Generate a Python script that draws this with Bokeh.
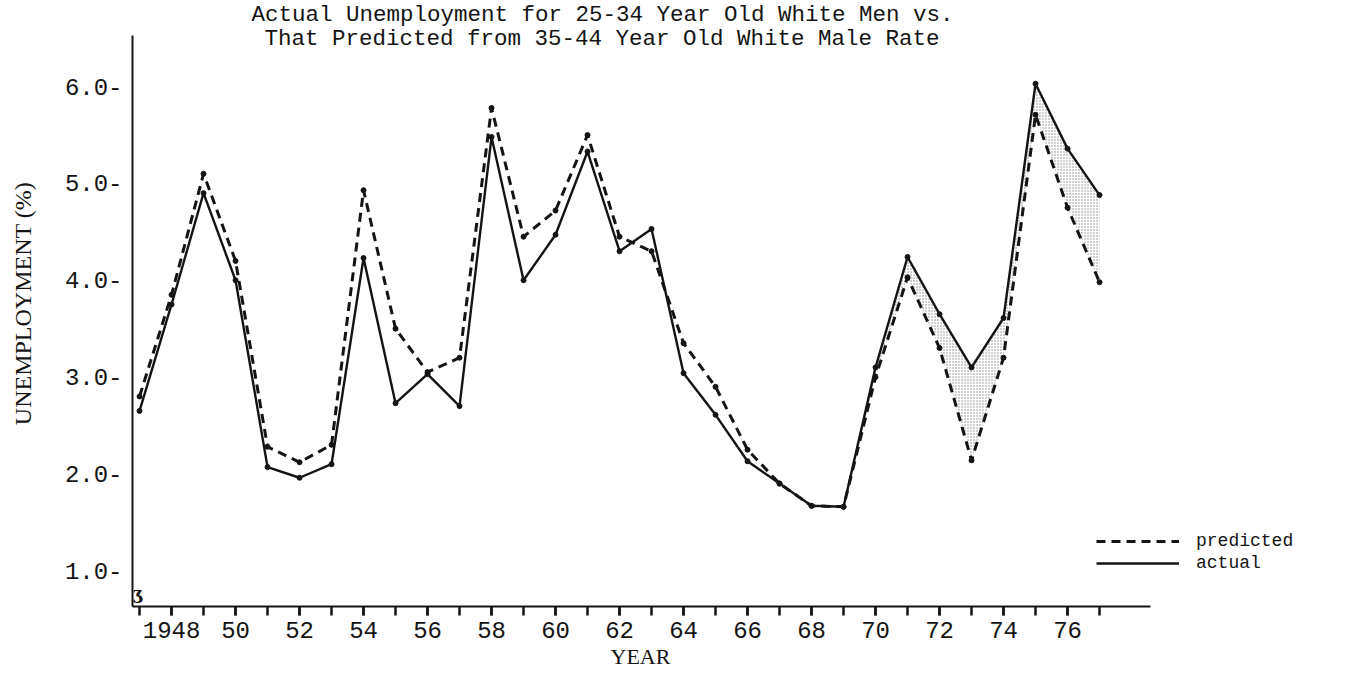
from bokeh.plotting import figure
from bokeh.models import (Range1d, FixedTicker, Label, Legend, LegendItem, Title)
from bokeh.embed import file_html
from bokeh.resources import INLINE

# ---- data ----
years = list(range(1947, 1978))
actual = [2.65, 3.75, 4.9, 4.0, 2.07, 1.96, 2.1, 4.23, 2.73, 3.03, 2.70, 5.48,
          4.0, 4.47, 5.33, 4.3, 4.53, 3.04, 2.61, 2.13, 1.9, 1.67, 1.66, 3.1,
          4.24, 3.65, 3.1, 3.61, 6.03, 5.36, 4.88]
predicted = [2.8, 3.85, 5.1, 4.2, 2.28, 2.12, 2.3, 4.93, 3.5, 3.05, 3.2, 5.78,
             4.45, 4.72, 5.5, 4.45, 4.3, 3.35, 2.9, 2.25, 1.9, 1.67, 1.66, 3.0,
             4.03, 3.3, 2.14, 3.2, 5.71, 4.75, 3.98]
label_years = list(range(1948, 1977, 2))
year_labels = ["1948"] + [str(y)[2:] for y in label_years[1:]]
y_ticks = [1, 2, 3, 4, 5, 6]
y_tick_labels = ["1.0-", "2.0-", "3.0-", "4.0-", "5.0-", "6.0-"]
title_lines = ["Actual Unemployment for 25-34 Year Old White Men vs.",
               "That Predicted from 35-44 Year Old White Male Rate"]
x_title = "YEAR"
y_title = "UNEMPLOYMENT (%)"

INK = "#141414"
MONO = "Liberation Mono"
SERIF = "Liberation Serif"

X0, X1 = 1946.78, 1984.53
Y0, Y1 = 0.63, 6.89          # frame reaches the top of the page (title area)
p = figure(width=1349, height=680, output_backend="svg", toolbar_location=None,
           x_range=Range1d(X0, X1), y_range=Range1d(Y0, Y1),
           min_border_left=132, min_border_top=0, min_border_bottom=74,
           min_border_right=9)
p.outline_line_color = None
p.grid.visible = False
p.background_fill_color = "white"
p.border_fill_color = "white"

# stippled region between the curves in the 1970s
p.varea(x=years[22:], y1=actual[22:], y2=predicted[22:], fill_alpha=0,
        hatch_pattern="dot", hatch_color="#3a3a3a", hatch_alpha=0.6,
        hatch_scale=3, hatch_weight=1)

r_pred = p.line(years, predicted, line_color=INK, line_width=3,
                line_dash="9 6")
r_act = p.line(years, actual, line_color=INK, line_width=2.4)
p.scatter(years, predicted, size=5, color=INK)
p.scatter(years, actual, size=5, color=INK)

# x axis
xa = p.xaxis[0]
xa.ticker = FixedTicker(ticks=label_years, minor_ticks=years)
xa.major_label_overrides = {y: t for y, t in zip(label_years, year_labels)}
xa.bounds = (X0, 1978.6)
xa.axis_line_width = 2
xa.axis_line_color = INK
xa.major_tick_line_width = 2.5
xa.minor_tick_line_width = 2.5
xa.major_tick_line_color = INK
xa.minor_tick_line_color = INK
xa.major_tick_in = 0
xa.major_tick_out = 9
xa.minor_tick_in = 0
xa.minor_tick_out = 9
xa.major_label_standoff = 6
xa.major_label_text_font = MONO
xa.major_label_text_font_size = "24px"
xa.major_label_text_color = INK

# x-axis title, placed under the axis, left of the frame centre as drawn
p.add_layout(Title(text=x_title, align="left", offset=478, standoff=2,
                   text_font=SERIF, text_font_size="22px",
                   text_font_style="normal", text_color=INK), "below")

# y axis
ya = p.yaxis[0]
ya.ticker = FixedTicker(ticks=y_ticks, minor_ticks=[])
ya.major_label_overrides = {t: s for t, s in zip(y_ticks, y_tick_labels)}
ya.bounds = (Y0, 6.53)
ya.axis_line_width = 2
ya.axis_line_color = INK
ya.major_tick_line_color = None
ya.major_tick_in = 0
ya.major_tick_out = 0
ya.minor_tick_line_color = None
ya.major_label_standoff = 10
ya.major_label_text_font = MONO
ya.major_label_text_font_size = "24px"
ya.major_label_text_color = INK
ya.axis_label = y_title
ya.axis_label_text_font = SERIF
ya.axis_label_text_font_size = "24px"
ya.axis_label_text_font_style = "normal"
ya.axis_label_text_color = INK
ya.axis_label_standoff = 26

# axis-break mark at the foot of the y axis
p.add_layout(Label(x=5, y=13, x_units="screen", y_units="screen",
                   text="\u0292", text_font="DejaVu Serif",
                   text_font_size="16px", text_font_style="bold",
                   text_color=INK, text_align="center",
                   text_baseline="middle"))

# legend: one box per row for exact placement
for item, r, ly in (("predicted", r_pred, 55), ("actual", r_act, 33)):
    lg = Legend(items=[LegendItem(label=item, renderers=[r])],
                location=(964, ly), orientation="vertical",
                glyph_width=83, glyph_height=18, label_height=18,
                label_standoff=17, spacing=0, padding=0, margin=0,
                border_line_color=None, background_fill_alpha=0,
                label_text_font=MONO, label_text_font_size="18px",
                label_text_color=INK)
    p.add_layout(lg)

# two-line title (inside the frame, above the plotted data)
for i, t in enumerate(title_lines):
    p.add_layout(Label(x=119 + 13 * i, y=592 - 24 * i, x_units="screen",
                       y_units="screen", text=t, text_font=MONO,
                       text_font_size="22.5px", text_color=INK,
                       text_baseline="middle", text_align="left"))

open("out.html", "w").write(file_html(p, INLINE))
